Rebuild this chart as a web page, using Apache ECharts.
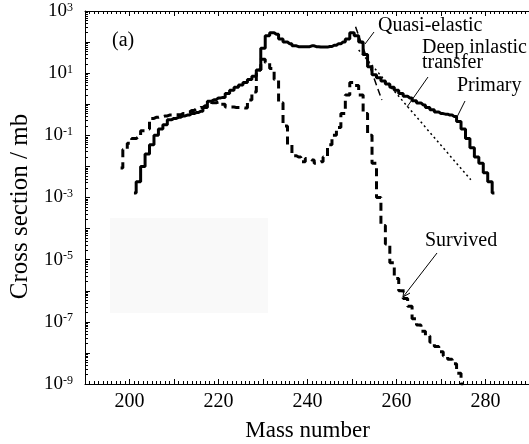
<!DOCTYPE html>
<html>
<head>
<meta charset="utf-8">
<script src="https://cdn.jsdelivr.net/npm/echarts@6/dist/echarts.min.js"></script>
<style>
  html, body { margin: 0; padding: 0; background: #fff; }
  #main { width: 529px; height: 444px; }
</style>
</head>
<body>
<div id="main"></div>
<script>
// primary fragments, A = 201 .. 282
var primaryStart = 201;
var primaryValues = [
  1.4e-3, 3.2e-3, 1.0e-2, 2.5e-2, 5.0e-2, 0.10, 0.16, 0.22, 0.32, 0.35,
  0.38, 0.42, 0.45, 0.50, 0.54, 0.60, 0.79, 1.26, 1.4, 1.6,
  1.66, 2.2, 2.8, 3.5, 4.2, 5.0, 6.3, 7.9, 12.6, 63,
  160, 200, 178, 126, 100, 89, 76, 71, 71, 71,
  76, 71, 69, 69, 72, 79, 89, 100, 126, 200,
  160, 100, 40, 16, 8.9, 7.1, 5.6, 4.5, 3.5, 2.8,
  2.2, 1.8, 1.6, 1.3, 1.1, 0.95, 0.79, 0.66, 0.56, 0.50,
  0.48, 0.45, 0.40, 0.28, 0.16, 0.079, 0.040, 0.020, 0.0126, 0.0063,
  0.0032, 0.0014
];

// survived fragments, A = 198 .. 275
var survivedStart = 198;
var survivedValues = [
  8.9e-3, 0.035, 0.056, 0.079, 0.089, 0.14, 0.16, 0.35, 0.38, 0.40,
  0.42, 0.45, 0.46, 0.46, 0.50, 0.56, 0.63, 0.71, 0.79, 0.89,
  0.95, 1.12, 1.17, 1.0, 0.81, 0.81, 0.79, 0.79, 0.76, 1.38,
  2.5, 12.6, 28, 22, 14, 6.3, 1.12, 0.20, 0.050, 0.022,
  0.020, 0.014, 0.018, 0.016, 0.0126, 0.014, 0.020, 0.050, 0.10, 0.18,
  0.50, 2.0, 5.0, 4.0, 2.0, 0.50, 0.10, 0.0126, 1.0e-3, 1.26e-4,
  3.2e-5, 7.9e-6, 2.5e-6, 1.0e-6, 5.6e-7, 3.2e-7, 1.26e-7, 7.9e-8, 5.0e-8, 3.5e-8,
  2.2e-8, 1.6e-8, 1.1e-8, 7.9e-9, 6.3e-9, 4.5e-9, 2.2e-9, 1.0e-9
];

// guide lines
var quasiElastic = [[250.8, 310], [256.7, 1.38]];
var deepInelastic = [[251.5, 56], [276.7, 0.0037]];

var xTicks = [200, 220, 240, 260, 280];

function toPairs(start, values) {
  return values.map(function (v, i) { return [start + i, v]; });
}

var serif = "Liberation Serif";
var chart = echarts.init(document.getElementById("main"));

function label(text, x, y) {
  return {
    type: "text",
    style: { text: text, x: x, y: y, font: "20px " + serif, fill: "#000", verticalAlign: "middle" }
  };
}

chart.setOption({
  animation: false,
  backgroundColor: "#fff",
  grid: { left: 85, right: -1, top: 11, bottom: 60, containLabel: false, outerBoundsMode: "none" },
  xAxis: [
    {
      type: "value",
      min: 190,
      max: 290,
      interval: 10,
      name: "Mass number",
      nameLocation: "middle",
      nameGap: 35,
      nameTextStyle: { fontFamily: serif, fontSize: 23, color: "#000" },
      axisLine: { lineStyle: { color: "#000", width: 1 } },
      axisTick: { inside: true, length: 5, lineStyle: { color: "#000" } },
      minorTick: { show: true, splitNumber: 10, length: 3, lineStyle: { color: "#000" } },
      splitLine: { show: false },
      axisLabel: {
        fontFamily: serif,
        fontSize: 20,
        color: "#000",
        margin: 8,
        formatter: function (v) { return xTicks.indexOf(v) >= 0 ? String(v) : ""; }
      }
    },
    {
      type: "value",
      position: "top",
      min: 190,
      max: 290,
      interval: 10,
      axisLine: { lineStyle: { color: "#000", width: 1 } },
      axisTick: { inside: true, length: 5, lineStyle: { color: "#000" } },
      minorTick: { show: true, splitNumber: 10, length: 3, lineStyle: { color: "#000" } },
      splitLine: { show: false },
      axisLabel: { show: false }
    }
  ],
  yAxis: {
    type: "log",
    logBase: 10,
    min: 1e-9,
    max: 1e3,
    interval: 1,
    name: "Cross section / mb",
    nameLocation: "middle",
    nameGap: 50,
    nameTextStyle: { fontFamily: serif, fontSize: 25, color: "#000", padding: [0, 18, 0, 0] },
    axisLine: { show: true, lineStyle: { color: "#000", width: 1 } },
    axisTick: { inside: true, length: 5, lineStyle: { color: "#000" } },
    minorTick: { show: true, splitNumber: 9, length: 3, lineStyle: { color: "#000" } },
    splitLine: { show: false },
    axisLabel: {
      margin: 12,
      formatter: function (v) {
        var k = Math.round(Math.log(v) / Math.LN10);
        if (Math.abs(k) % 2 !== 1) return "";
        return "{b|10}{s|" + k + "}";
      },
      rich: {
        b: { fontFamily: serif, fontSize: 19, color: "#000", verticalAlign: "bottom" },
        s: { fontFamily: serif, fontSize: 12, color: "#000", verticalAlign: "top", padding: [0, 0, 7, 0] }
      }
    }
  },
  series: [
    {
      name: "Primary",
      type: "line",
      step: "middle",
      showSymbol: false,
      data: toPairs(primaryStart, primaryValues),
      lineStyle: { color: "#000", width: 3 }
    },
    {
      name: "Survived",
      type: "line",
      step: "middle",
      showSymbol: false,
      data: toPairs(survivedStart, survivedValues),
      lineStyle: { color: "#000", width: 3, type: [8, 5] }
    },
    {
      name: "Quasi-elastic",
      type: "line",
      showSymbol: false,
      data: quasiElastic,
      lineStyle: { color: "#000", width: 1.5, type: [7, 4] }
    },
    {
      name: "Deep inlastic transfer",
      type: "line",
      showSymbol: false,
      data: deepInelastic,
      lineStyle: { color: "#000", width: 1.5, type: [2, 3] }
    }
  ],
  graphic: [
    { type: "rect", z: -1, shape: { x: 110, y: 218, width: 158, height: 95 }, style: { fill: "#f9f9f9" } },
    label("(a)", 112, 41),
    label("Quasi-elastic", 378, 26),
    label("Deep inlastic", 422, 48),
    label("transfer", 422, 63),
    label("Primary", 457, 86),
    label("Survived", 425, 241),
    { type: "line", shape: { x1: 374, y1: 32, x2: 365, y2: 44 }, style: { stroke: "#000", lineWidth: 1 } },
    { type: "line", shape: { x1: 428, y1: 77, x2: 407, y2: 107 }, style: { stroke: "#000", lineWidth: 1 } },
    { type: "line", shape: { x1: 465, y1: 101, x2: 457, y2: 117 }, style: { stroke: "#000", lineWidth: 1 } },
    { type: "line", shape: { x1: 437, y1: 253, x2: 403, y2: 297 }, style: { stroke: "#000", lineWidth: 1 } },
    { type: "polyline", shape: { points: [[404, 289], [403, 297], [410, 293]] }, style: { stroke: "#000", lineWidth: 1, fill: null } }
  ]
});
</script>
</body>
</html>
